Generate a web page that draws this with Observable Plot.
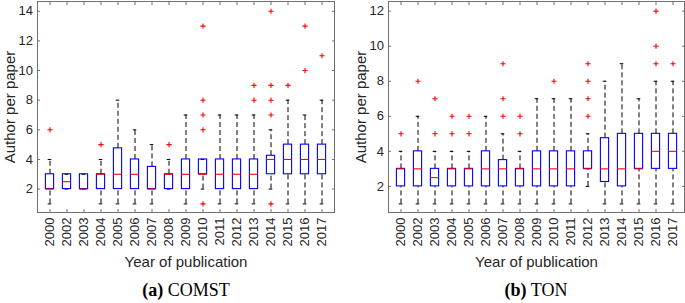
<!DOCTYPE html>
<html><head><meta charset="utf-8">
<script src="https://cdn.jsdelivr.net/npm/d3@7"></script>
<script src="https://cdn.jsdelivr.net/npm/@observablehq/plot@0.6"></script>
<style>
html,body{margin:0;padding:0;background:#fff;}
#wrap{position:relative;width:685px;height:303px;overflow:hidden;}
#left{position:absolute;left:0;top:0;}
#right{position:absolute;left:342px;top:0;}
.cap{position:absolute;top:281px;font-family:"Liberation Serif","Times New Roman",serif;font-size:18px;line-height:18px;text-align:center;color:#000;white-space:nowrap;}
</style></head><body>
<div id="wrap"><div id="left"></div><div id="right"></div>
<div class="cap" style="left:0;width:372px"><b>(a)</b> COMST</div>
<div class="cap" style="left:388px;width:296px"><b>(b)</b> TON</div>
</div>
<script>
// ---- data ----
const years = ["2000","2002","2003","2004","2005","2006","2007","2008","2009","2010","2011","2012","2013","2014","2015","2016","2017"];

// COMST
const comstLow  = [1, 2, 2, 1, 1, 1, 1, 2, 1, 2, 1, 1, 1, 2, 1, 1, 1];
const comstQ1   = [2, 2, 2, 2, 2, 2, 2, 2, 2, 3, 2, 2, 2, 3, 3, 3, 3];
const comstMed  = [2, 2.5, 2, 3, 3, 3, 2, 3, 3, 3, 3, 3, 3, 4, 4, 4, 4];
const comstQ3   = [3, 3, 3, 3, 4.75, 4, 3.5, 3, 4, 4, 4, 4, 4, 4.25, 5, 5, 5];
const comstHigh = [4, 3, 3, 4, 8, 6, 5, 4, 7, 4, 7, 7, 7, 6, 8, 7, 8];
const comstOut  = [[6], [], [], [5], [], [], [], [5], [], [1, 6, 7, 8, 13], [], [], [8, 9], [1, 7, 8, 9, 14], [9], [10, 13], [11]];
const comstTicks = [2, 4, 6, 8, 10, 12, 14];

// TON
const tonLow  = [1, 1, 1, 1, 1, 1, 1, 1, 1, 1, 1, 2, 1, 1, 1, 1, 1];
const tonQ1   = [2, 2, 2, 2, 2, 2, 2, 2, 2, 2, 2, 3, 2.25, 2, 3, 3, 3];
const tonMed  = [3, 3, 2.5, 3, 3, 3, 3, 3, 3, 3, 3, 3, 3, 3, 3, 4, 4];
const tonQ3   = [3, 4, 3, 3, 3, 4, 3.5, 3, 4, 4, 4, 4, 4.75, 5, 5, 5, 5];
const tonHigh = [4, 6, 4, 4, 4, 6, 5, 4, 7, 7, 7, 5, 8, 9, 7, 8, 8];
const tonOut  = [[5], [8], [5, 7], [5, 6], [5, 6], [], [6, 7, 9], [5, 6], [], [8], [], [6, 7, 8, 9], [], [], [], [9, 10, 12], [9]];
const tonTicks = [2, 4, 6, 8, 10, 12];

const yLabel = "Author per paper";
const xLabel = "Year of publication";

// ---- helpers ----
function rows(low, q1, med, q3, high) {
  return years.map((year, i) => ({year, low: low[i], q1: q1[i], med: med[i], q3: q3[i], high: high[i]}));
}
function outliers(list) {
  return years.flatMap((year, i) => list[i].map(v => ({year, v})));
}

function chart({data, outs, yTicks, yDomain, width, marginLeft, marginRight}) {
  const font = "'Liberation Sans', Arial, Helvetica, sans-serif";
  const textCol = "#262626";
  const lineCol = "#707070";
  const boxInset = 4.4, capInset = 6.7;
  const dash = "5,3";
  return Plot.plot({
    width, height: 278, marginLeft, marginRight, marginTop: 1, marginBottom: 66,
    style: {fontFamily: font, fontSize: "13px", color: textCol, background: "white", overflow: "visible"},
    x: {type: "band", domain: years, padding: 0, label: null},
    y: {domain: yDomain, label: null},
    marks: [
      Plot.ruleX(data, {x: "year", y1: "q3", y2: "high", stroke: "black", strokeWidth: 1, strokeDasharray: dash}),
      Plot.ruleX(data, {x: "year", y1: "low", y2: "q1", stroke: "black", strokeWidth: 1, strokeDasharray: dash}),
      Plot.tickY(data, {x: "year", y: "high", insetLeft: capInset, insetRight: capInset, stroke: "black"}),
      Plot.tickY(data, {x: "year", y: "low", insetLeft: capInset, insetRight: capInset, stroke: "black"}),
      Plot.barY(data, {x: "year", y1: "q1", y2: "q3", insetLeft: boxInset, insetRight: boxInset, fill: "none", stroke: "#0000ff", strokeWidth: 1.1}),
      Plot.tickY(data, {x: "year", y: "med", insetLeft: boxInset, insetRight: boxInset, stroke: "#ff0000", strokeWidth: 1.1}),
      Plot.dot(outs, {x: "year", y: "v", symbol: "plus", r: 1.8, stroke: "#ff0000", strokeWidth: 1.1}),
      Plot.frame({stroke: lineCol}),
      Plot.axisY(yTicks, {anchor: "left", tickSize: 3, dx: 3, tickPadding: 4.5, stroke: lineCol, fill: textCol, fontSize: 13, label: null}),
      Plot.axisY(yTicks, {anchor: "right", tickSize: 3, dx: -3, tickFormat: () => "", stroke: lineCol, label: null}),
      Plot.axisX(years, {anchor: "bottom", tickSize: 3, dy: -3, tickPadding: 5, tickRotate: -90, stroke: lineCol, fill: textCol, fontSize: 13, label: null}),
      Plot.axisX(years, {anchor: "top", tickSize: 3, dy: 3, tickFormat: () => "", stroke: lineCol, label: null}),
      Plot.text([xLabel], {frameAnchor: "bottom", dy: 50, textAnchor: "middle", lineAnchor: "middle", fontSize: 15, fill: textCol}),
      Plot.text([yLabel], {frameAnchor: "left", dx: -27.5, rotate: -90, textAnchor: "middle", lineAnchor: "middle", fontSize: 15, fill: textCol})
    ]
  });
}

document.getElementById("left").append(chart({
  data: rows(comstLow, comstQ1, comstMed, comstQ3, comstHigh),
  outs: outliers(comstOut),
  yTicks: comstTicks, yDomain: [0.42, 14.66],
  width: 342, marginLeft: 37, marginRight: 8
}));
document.getElementById("right").append(chart({
  data: rows(tonLow, tonQ1, tonMed, tonQ3, tonHigh),
  outs: outliers(tonOut),
  yTicks: tonTicks, yDomain: [0.51, 12.55],
  width: 343, marginLeft: 46, marginRight: 1
}));
</script>
</body></html>
